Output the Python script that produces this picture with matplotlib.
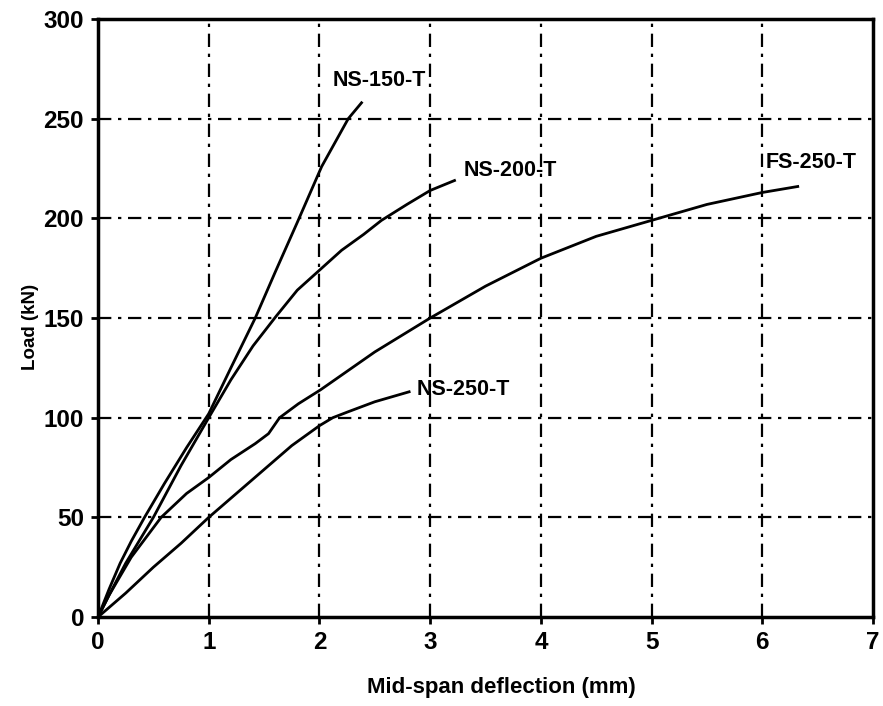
#!/usr/bin/env python
"""

Load vs mid-span deflection for the four beams

"""
import matplotlib
matplotlib.use('Agg')
import matplotlib.pyplot as plt

plt.rcParams['font.family'] = ['Liberation Sans', 'DejaVu Sans']
plt.rcParams['font.weight'] = 'bold'

# data: deflection [mm], load [kN]
ns150_x = [0, 0.1, 0.2, 0.3, 0.42, 0.6, 0.8, 1.0, 1.2, 1.42, 1.6, 1.8, 2.02, 2.26, 2.38]
ns150_y = [0, 14, 27, 38, 50, 67, 85, 102, 125, 150, 173, 198, 226, 250, 258]

ns200_x = [0, 0.1, 0.25, 0.5, 0.75, 1.0, 1.2, 1.4, 1.61, 1.8, 2.0, 2.2, 2.4, 2.56, 2.79, 3.0, 3.22]
ns200_y = [0, 11, 27, 50, 76, 100, 119, 136, 151, 164, 174, 184, 192, 199, 207, 214, 219]

fs250_x = [0, 0.1, 0.3, 0.57, 0.8, 1.0, 1.2, 1.42, 1.54, 1.64, 1.81, 2.01, 2.5, 3.0, 3.5, 4.0, 4.5, 5.0, 5.5, 6.0, 6.32]
fs250_y = [0, 11, 30, 50, 62, 70, 79, 87, 92, 100, 107, 114, 133, 150, 166, 180, 191, 199, 207, 213, 216]

ns250_x = [0, 0.25, 0.5, 0.75, 1.0, 1.25, 1.5, 1.75, 2.0, 2.12, 2.26, 2.5, 2.81]
ns250_y = [0, 12, 25, 37, 50, 62, 74, 86, 96, 100, 103, 108, 113]

labels = ['NS-150-T', 'NS-200-T', 'FS-250-T', 'NS-250-T']
label_x = [2.12, 3.3, 6.03, 2.88]
label_y = [269, 224, 228, 114]

fig = plt.figure(figsize=(8.83, 7.06), dpi=100)
ax = fig.add_axes([0.111, 0.126, 0.8777, 0.847])

for xs, ys in [(ns150_x, ns150_y), (ns200_x, ns200_y),
               (fs250_x, fs250_y), (ns250_x, ns250_y)]:
  ax.plot(xs, ys, '-', color='black', linewidth=2, zorder=3)

for name, lx, ly in zip(labels, label_x, label_y):
  ax.text(lx, ly, name, fontsize=15.5, fontweight='bold', ha='left', va='center')

ax.set_xlim([0, 7])
ax.set_ylim([0, 300])
ax.set_xticks(range(0, 8))
ax.set_yticks(range(0, 301, 50))

for v in range(1, 7):
  ax.axvline(v, color='black', linewidth=1.6, dashes=(6, 3, 1.5, 3), zorder=1)
for v in range(50, 300, 50):
  ax.axhline(v, color='black', linewidth=1.6, dashes=(6, 3, 1.5, 3), zorder=1)

for s in ax.spines.values():
  s.set_linewidth(2.5)
ax.tick_params(direction='out', length=5, width=2, labelsize=17.5, pad=5)
for t in ax.get_xticklabels() + ax.get_yticklabels():
  t.set_fontweight('bold')

plt.xlabel('Mid-span deflection (mm)', fontsize=16, fontweight='bold')
plt.ylabel('Load (kN)', fontsize=13.5, fontweight='bold')
ax.xaxis.set_label_coords(0.521, -0.1)
ax.yaxis.set_label_coords(-0.076, 0.485)

plt.savefig('out.png', dpi=100)
